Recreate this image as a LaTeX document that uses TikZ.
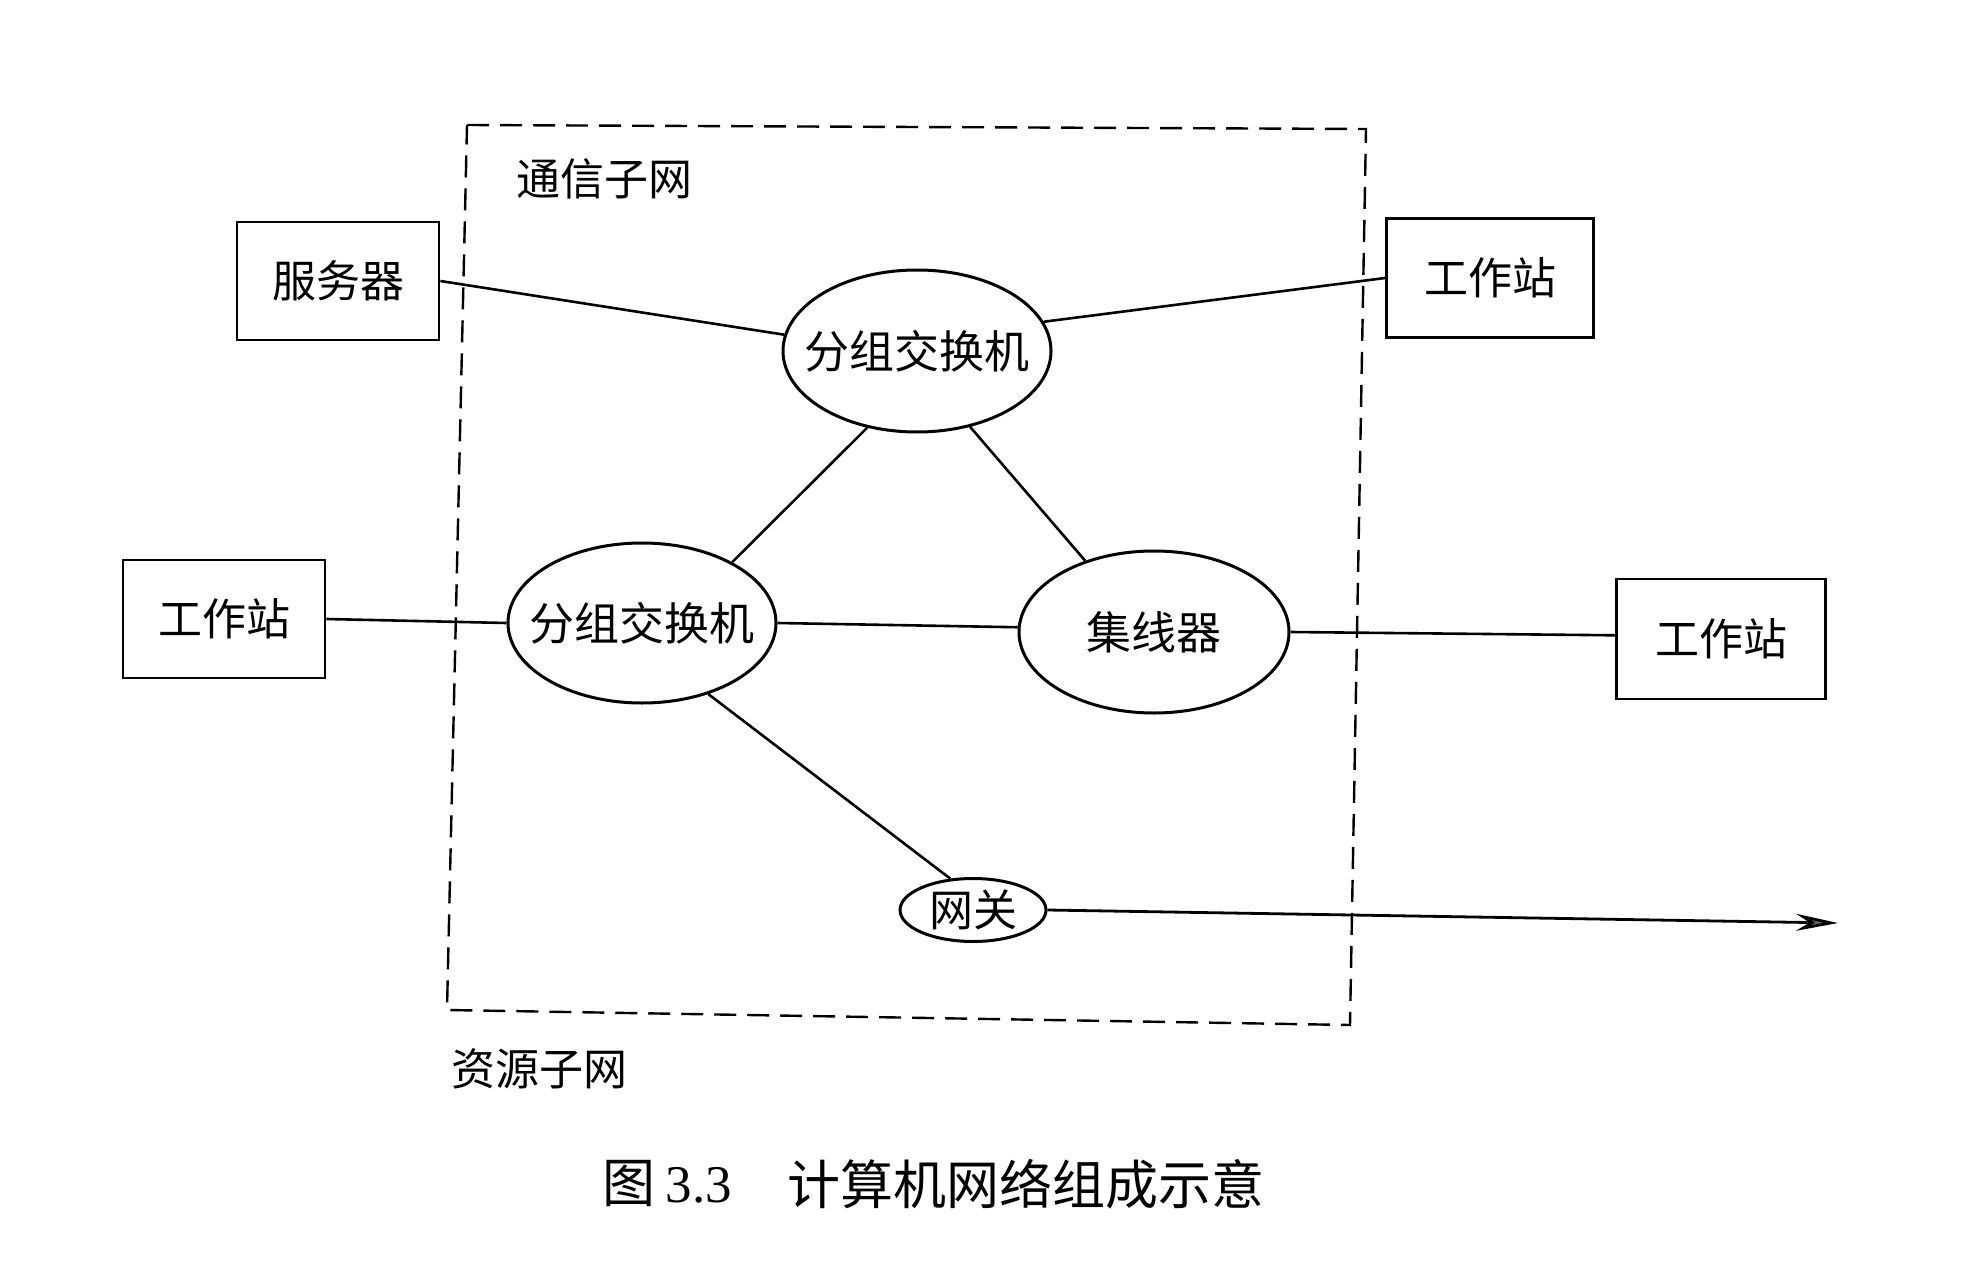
\documentclass[tikz,border=0pt]{standalone}
\usepackage{fontspec}
\newfontfamily\cjk{Noto Sans CJK SC}
\usetikzlibrary{shapes.geometric,arrows.meta}
\begin{document}
\begin{tikzpicture}[x=1pt,y=-1pt,
  box/.style={draw,line width=2.8pt,inner sep=0pt,font=\cjk\fontsize{44}{50}\selectfont},
  ell/.style={draw,ellipse,line width=3pt,inner sep=0pt,font=\cjk\fontsize{45}{50}\selectfont},
  link/.style={line width=2.6pt},
  lbl/.style={font=\cjk\fontsize{44}{50}\selectfont,inner sep=0pt}]
\useasboundingbox (0,0) rectangle (1965,1273);
% dashed frame
\coordinate (f1) at (467,125);
\coordinate (f2) at (1366,129);
\coordinate (f3) at (1350,1025);
\coordinate (f4) at (447,1010);
\draw[line width=2.4pt,dash pattern=on 22pt off 11pt] (f1) -- (f2) -- (f3) -- (f4) -- cycle;
\node[lbl] (tx) at (604,179) {通信子网};
\node[lbl] (zy) at (539,1069) {资源子网};
% boxes
\node[box,minimum width=202pt,minimum height=118pt] (srv) at (338,281) {服务器};
\node[box,minimum width=207pt,minimum height=119pt] (ws1) at (1490,278) {工作站};
\node[box,minimum width=202pt,minimum height=118pt] (ws2) at (224,619) {工作站};
\node[box,minimum width=209pt,minimum height=120pt] (ws3) at (1721,639) {工作站};
% ellipses
\node[ell,minimum width=268pt,minimum height=162pt] (ps1) at (917,351) {\makebox[0pt]{分组交换机}};
\node[ell,minimum width=268pt,minimum height=160pt] (ps2) at (642,623) {\makebox[0pt]{分组交换机}};
\node[ell,minimum width=270pt,minimum height=162pt] (hub) at (1154,632) {\makebox[0pt]{集线器}};
\node[ell,minimum width=146pt,minimum height=63pt,font=\cjk\fontsize{44}{50}\selectfont] (gw) at (973,910) {\makebox[0pt]{网关}};
\coordinate (out) at (1838,923);
% links
\draw[link] (srv.east) -- (ps1.173.6);
\draw[link] (ps1.13.5) -- (ws1.west);
\draw[link] (ws2.east) -- (ps2.180.5);
\draw[link] (ps2.east) -- (hub.178.5);
\draw[link] (hub.east) -- (ws3.178);
\draw[link] (ps1.237) -- (ps2.34);
\draw[link] (ps1.305) -- (hub.134);
\draw[link] (ps2.-47) -- (gw.126);
\draw[line width=2.8pt,-{Stealth[length=42pt,width=17pt,fill=black!60]}] (gw.east) -- (out);
% caption
\node[inner sep=0pt,anchor=west] (cap1) at (602,1184) {\cjk\fontsize{53}{60}\selectfont 图\hspace{0.2em}\fontspec{Liberation Serif}3.3};
\node[inner sep=0pt,anchor=west] (cap2) at (787,1184) {\cjk\fontsize{53}{60}\selectfont 计算机网络组成示意};
\end{tikzpicture}
\end{document}
